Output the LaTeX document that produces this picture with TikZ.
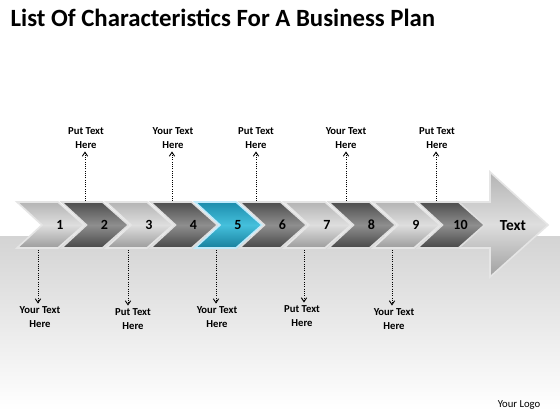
\documentclass[tikz,border=0pt]{standalone}
\usepackage{fontspec}
\setmainfont{Carlito}
\usetikzlibrary{arrows.meta}

\definecolor{bandgray}{HTML}{D4D4D4}
\definecolor{lighttop}{HTML}{B4B4B4}
\definecolor{lightmid}{HTML}{DEDEDE}
\definecolor{lightbot}{HTML}{9C9C9C}
\definecolor{darktop}{HTML}{4E4E4E}
\definecolor{darkmid}{HTML}{8E8E8E}
\definecolor{darkbot}{HTML}{484848}
\definecolor{cyantop}{HTML}{1C8CAC}
\definecolor{cyanmid}{HTML}{45C0DC}
\definecolor{cyanbot}{HTML}{17809E}

\tikzset{
  chevlight/.style={draw=white!80!gray, line width=1.2pt, top color=lighttop, bottom color=lightbot, middle color=lightmid},
  chevdark/.style={draw=white!75!gray, line width=1.2pt, top color=darktop, bottom color=darkbot, middle color=darkmid},
  chevcyan/.style={draw=cyan!25!white, line width=1.2pt, top color=cyantop, bottom color=cyanbot, middle color=cyanmid},
  bigarrow/.style={draw=white!80!gray, line width=1.2pt, top color=lighttop, bottom color=gray!75, middle color=lightmid},
  numlabel/.style={font=\fontsize{10.5}{12}\selectfont\bfseries, text=black},
  note/.style={font=\fontsize{8}{10.5}\selectfont\bfseries, align=center, inner sep=2pt},
  conn/.style={densely dotted, line width=0.7pt, -{Straight Barb[length=3pt,width=4pt]}}
}

\begin{document}
\begin{tikzpicture}[x=0.75pt, y=0.75pt]
  \useasboundingbox (0,0) rectangle (560,420);
  % background with grey band
  \fill[white] (0,0) rectangle (560,420);
  \shade[top color=bandgray, bottom color=white] (0,10) rectangle (560,183);
  \fill[bandgray] (0,183) rectangle (560,184);

  \node[anchor=base west, font=\fontsize{18.6}{22}\selectfont\bfseries] (title) at (6,393) {List Of Characteristics For A Business Plan};

  % big arrow at the end
  \path[bigarrow] (460,218) -- (490,218) -- (490,248) -- (548,195) -- (490,143) -- (490,172) -- (460,172) -- cycle;
  \node[font=\fontsize{11.5}{13}\selectfont\bfseries] (txt) at (513,194) {Text};

  % chevrons
  \foreach \k/\sty in {1/chevlight,2/chevdark,3/chevlight,4/chevdark,5/chevcyan,6/chevdark,7/chevlight,8/chevdark,9/chevlight,10/chevdark} {
    \pgfmathsetmacro\xa{17+(\k-1)*44.5}
    \path[\sty] (\xa,218) -- ++(41,0) -- ++(26,-23) -- ++(-26,-23) -- ++(-41,0) -- ++(25,23) -- cycle;
    \node[numlabel] (num\k) at (\xa+43,195) {\k};
  }

  % notes above
  \node[note] (lab2) at (86,282) {Put Text\\Here};
  \node[note] (lab4) at (173,282) {Your Text\\Here};
  \node[note] (lab6) at (256,282) {Put Text\\Here};
  \node[note] (lab8) at (346,282) {Your Text\\Here};
  \node[note] (lab10) at (437,282) {Put Text\\Here};
  \coordinate (up2) at (85,219);
  \coordinate (up4) at (172,219);
  \coordinate (up6) at (256,219);
  \coordinate (up8) at (346,219);
  \coordinate (up10) at (436,219);
  \foreach \k in {2,4,6,8,10} {
    \draw[conn] (up\k) -- (up\k |- lab\k.south);
  }

  % notes below
  \node[note] (lab1) at (40,103) {Your Text\\Here};
  \node[note] (lab3) at (133,101) {Put Text\\Here};
  \node[note] (lab5) at (217,103) {Your Text\\Here};
  \node[note] (lab7) at (302,104) {Put Text\\Here};
  \node[note] (lab9) at (394,101) {Your Text\\Here};
  \coordinate (dn1) at (38,170);
  \coordinate (dn3) at (128,170);
  \coordinate (dn5) at (216,170);
  \coordinate (dn7) at (304,170);
  \coordinate (dn9) at (392,170);
  \foreach \k in {1,3,5,7,9} {
    \draw[conn] (dn\k) -- (dn\k |- lab\k.north);
  }

  \node[font=\fontsize{8}{10}\selectfont] (logo) at (519,15) {Your Logo};
\end{tikzpicture}
\end{document}
